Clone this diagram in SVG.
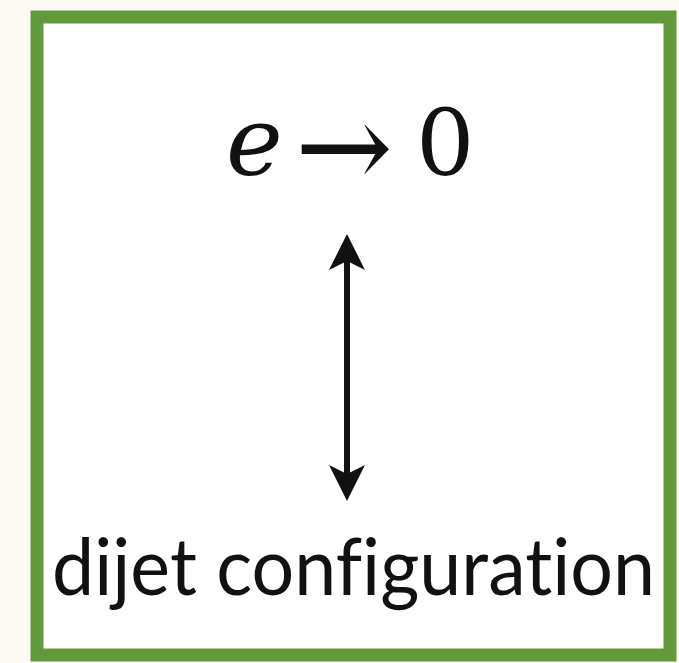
<svg xmlns="http://www.w3.org/2000/svg" width="679" height="663" viewBox="0 0 679 663">
<style>
.frame{fill:#ffffff;stroke:#62993a;stroke-width:13}
.math{fill:#111}
.label{fill:#111;font-size:80px;font-variant-ligatures:none;font-feature-settings:"liga" 0,"dlig" 0}
.conn{stroke:#111;stroke-width:6;fill:none}
</style>
<defs>
<marker id="ah" viewBox="0 0 12 12" refX="10" refY="6" markerWidth="6" markerHeight="6" orient="auto-start-reverse" markerUnits="strokeWidth">
<path d="M0,0 L12,6 L0,12 L3,6 Z" fill="#111"/>
</marker>
</defs>
<rect x="0" y="0" width="679" height="663" fill="#fdf9f3"/>
<g id="frame">
<rect class="frame" x="37" y="17" width="633" height="638"/>
</g>
<g id="node-limit">
<text class="math" x="226" y="175" font-size="96" font-style="italic" font-family="'DejaVu Serif','Liberation Serif',serif">e</text>
<text class="math" x="0" y="0" font-size="96" font-family="'DejaVu Serif','Liberation Serif',serif" transform="translate(295,188) scale(1.22,1.25)">→</text>
<text class="math" x="416" y="175" font-size="92" font-family="'DejaVu Serif','Liberation Serif',serif">0</text>
</g>
<g id="node-dijet">
<text class="label" x="52" y="595" font-family="Lato,'Open Sans','Liberation Sans',sans-serif" textLength="603" lengthAdjust="spacingAndGlyphs">dijet configuration</text>
</g>
<g id="connectors">
<line class="conn" x1="347" y1="240" x2="347" y2="495" marker-start="url(#ah)" marker-end="url(#ah)"/>
</g>
</svg>
